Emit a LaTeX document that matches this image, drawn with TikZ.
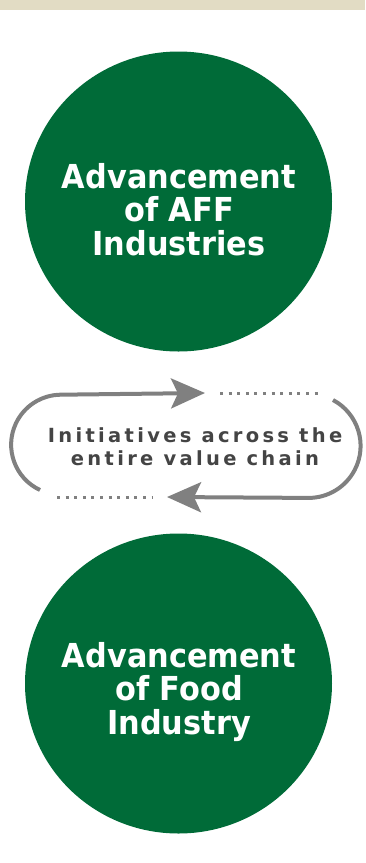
\documentclass[tikz,border=0pt]{standalone}
\usepackage{fontspec}
\setmainfont{DejaVu Sans}
\newfontfamily\stagefont[FakeStretch=0.92]{DejaVu Sans}
\newfontfamily\trackedfont[LetterSpace=17]{DejaVu Sans}
\usetikzlibrary{arrows.meta,shapes.geometric}

\definecolor{affgreen}{HTML}{006B38}
\definecolor{bandbeige}{HTML}{E2DCC4}
\definecolor{loopgray}{HTML}{808080}
\definecolor{textgray}{HTML}{444444}

\begin{document}
\begin{tikzpicture}[x=1pt,y=-1pt,
    stage/.style={ellipse,fill=affgreen,minimum width=307pt,minimum height=300pt,inner sep=0pt},
    stagetext/.style={anchor=north,inner sep=0pt,text=white,align=center,
      font=\stagefont\fontsize{33}{33.5}\selectfont\bfseries},
    cycle/.style={draw=loopgray,line width=4pt,
      -{Stealth[length=34pt,width=30pt,inset=7pt]}},
    dots/.style={draw=loopgray,line width=3pt,dash pattern=on 3pt off 5.6pt}]
  \useasboundingbox (0,0) rectangle (365,863);
  \fill[bandbeige] (0,0) rectangle (365,10);
  %
  \node[stage] (aff) at (178.5,201.5) {};
  \node[stagetext] (afftext) at (179,163) {Advancement\\of AFF\\Industries};
  \node[stage] (food) at (178.5,683.5) {};
  \node[stagetext] (foodtext) at (179,642) {Advancement\\of Food\\Industry};
  %
  \coordinate (topStart) at (40,490);
  \coordinate (topTip) at (205,393);
  \coordinate (botStart) at (333,400);
  \coordinate (botTip) at (167,497);
  \draw[cycle] (topStart) arc[start angle=115,end angle=270,radius=50] -- (topTip);
  \draw[cycle] (botStart) arc[start angle=-62,end angle=90,radius=52] -- (botTip);
  \draw[dots] (220,393) -- (320,393);
  \draw[dots] (57,497) -- (152,497);
  %
  \node[anchor=north,inner sep=0pt,text=textgray,align=center,
    font=\trackedfont\fontsize{19.5}{23}\selectfont\bfseries] (chain) at (195,427)
    {Initiatives across the\\entire value chain};
\end{tikzpicture}
\end{document}
